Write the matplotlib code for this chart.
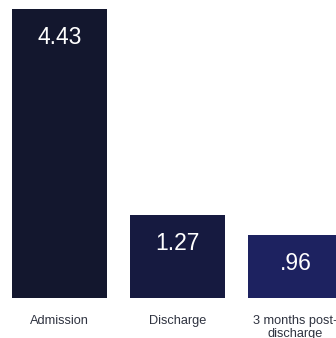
import matplotlib as mpl
mpl.use("Agg")
from matplotlib import pyplot as plt

# - data
categories = ["Admission", "Discharge", "3 months post-\ndischarge"]
values = [4.43, 1.27, 0.96]
value_labels = ["4.43", "1.27", ".96"]
colors = ["#13172e", "#161a40", "#1d2260"]

W, H = 336, 338
fig = plt.figure(figsize=(W / 100, H / 100), dpi=100)
# axes spans full width, bottom at 298px, top at 9px
ax = fig.add_axes([0, 40 / H, 1, 289 / H])

ax.bar(range(len(values)), values, width=0.805, color=colors)
ax.set_xlim(-59.5 / 118, (W - 59.5) / 118)
ax.set_ylim(0, 4.43)
ax.axis("off")

for i, (v, lab) in enumerate(zip(values, value_labels)):
    ax.annotate(lab, (i, v), xytext=(0, -12), textcoords="offset points",
                ha="center", va="top", color="white", fontsize=16.5,
                family="Liberation Sans")

for i, cat in enumerate(categories):
    ax.annotate(cat, (i, 0), xytext=(0, -12.5), textcoords="offset points",
                ha="center", va="top", color="#2f3340", fontsize=9.2,
                family="Liberation Sans", linespacing=1.1, annotation_clip=False)

fig.savefig("out.png", dpi=100)
